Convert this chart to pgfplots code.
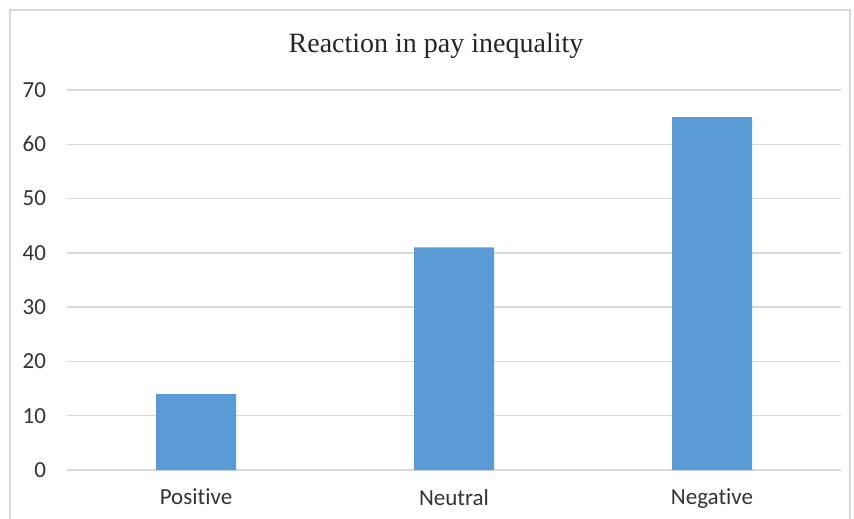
\documentclass[border=0pt]{standalone}
\usepackage{pgfplots}
\pgfplotsset{compat=1.18}
\usepackage{fontspec}
\setmainfont{Carlito}[Ligatures=NoCommon]
\newfontfamily\titlefont{Liberation Serif}
\definecolor{barblue}{HTML}{5B9BD5}
\definecolor{gridgray}{HTML}{D9D9D9}
\definecolor{framegray}{HTML}{D9D9D9}
\begin{document}
\begin{tikzpicture}
\path[use as bounding box] (0,0) rectangle (427pt,259pt);
\draw[framegray, line width=0.75pt] (5pt,-5pt) rectangle (425pt,254pt);
\node[font=\titlefont\fontsize{14}{16}\selectfont, text=black!85] at (218pt,236pt) {Reaction in pay inequality};
\begin{axis}[
  at={(33.5pt,24pt)}, anchor=south west,
  scale only axis, width=387pt, height=190pt,
  ybar, bar width=40pt,
  xmin=-0.5, xmax=2.5, ymin=0, ymax=70,
  xtick=data, xticklabels={Positive,Neutral,Negative},
  ytick={0,10,...,70},
  ymajorgrids, grid style={gridgray, line width=0.75pt},
  axis x line*=bottom, axis y line*=left,
  x axis line style={gridgray, line width=0.75pt, -},
  y axis line style={draw=none},
  major tick length=0pt,
  tick label style={font=\fontsize{11.5}{13}\selectfont, text=black!80},
  /pgf/number format/assume math mode=true,
  yticklabel style={xshift=-7pt},
  xticklabel style={yshift=-6pt},
  clip=false,
]
\addplot[fill=barblue, draw=none] coordinates {(0,14) (1,41) (2,65)};
\end{axis}
\end{tikzpicture}
\end{document}
